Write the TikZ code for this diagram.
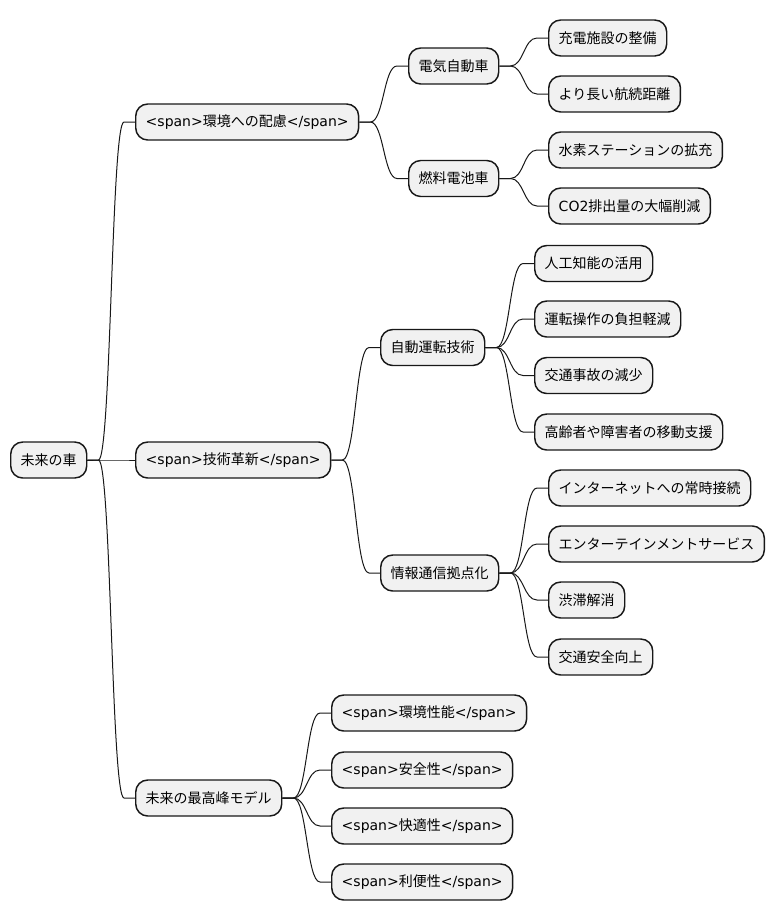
\documentclass[tikz,border=0pt]{standalone}
\usepackage{fontspec}
\setmainfont{DejaVu Sans}
\newfontfamily\jp{Noto Sans CJK JP}
\newcommand\J[1]{{\jp #1}}
\usetikzlibrary{calc}
\definecolor{boxfill}{HTML}{F1F1F1}
\definecolor{linec}{HTML}{181818}
\begin{document}
\begin{tikzpicture}[x=0.75pt,y=-0.75pt,
  box/.style={draw=linec, fill=boxfill, line width=1.1pt, rounded corners=9pt,
    anchor=west, minimum height=27pt, inner xsep=7.5pt, inner ysep=0pt,
    font=\fontsize{10.5pt}{12pt}\selectfont},
  conn/.style={draw=linec, line width=0.75pt, to path={
    let \p1=(\tikztostart.east), \p2=(\tikztotarget.west) in
    (\p1) -- (\x1+8.25pt,\y1) .. controls (\x1/2+\x2/2,\y1) and (\x1/2+\x2/2,\y2) .. (\x2-8.25pt,\y2) -- (\p2)}}]
\useasboundingbox (0,0) rectangle (775,921);
\node[box] (root) at (10,460) {\J{未来の車}};
\node[box] (env) at (135,122) {<span>\J{環境への配慮}</span>};
\node[box] (tech) at (135,460) {<span>\J{技術革新}</span>};
\node[box] (model) at (135,798) {\J{未来の最高峰モデル}};
\node[box] (ev) at (408,66) {\J{電気自動車}};
\node[box] (fc) at (408,178.5) {\J{燃料電池車}};
\node[box] (c1) at (548,38) {\J{充電施設の整備}};
\node[box] (c2) at (548,94) {\J{より長い航続距離}};
\node[box] (c3) at (548,150) {\J{水素ステーションの拡充}};
\node[box] (c4) at (548,206) {CO2\J{排出量の大幅削減}};
\node[box] (ad) at (380,347.5) {\J{自動運転技術}};
\node[box] (ic) at (380,573) {\J{情報通信拠点化}};
\node[box] (a1) at (534,263.5) {\J{人工知能の活用}};
\node[box] (a2) at (534,319) {\J{運転操作の負担軽減}};
\node[box] (a3) at (534,375.5) {\J{交通事故の減少}};
\node[box] (a4) at (534,432) {\J{高齢者や障害者の移動支援}};
\node[box] (i1) at (548,488) {\J{インターネットへの常時接続}};
\node[box] (i2) at (548,544) {\J{エンターテインメントサービス}};
\node[box] (i3) at (548,600) {\J{渋滞解消}};
\node[box] (i4) at (548,657) {\J{交通安全向上}};
\node[box] (m1) at (331,713) {<span>\J{環境性能}</span>};
\node[box] (m2) at (331,770) {<span>\J{安全性}</span>};
\node[box] (m3) at (331,826) {<span>\J{快適性}</span>};
\node[box] (m4) at (331,882) {<span>\J{利便性}</span>};
\foreach \a/\b in {root/env,root/tech,root/model,env/ev,env/fc,ev/c1,ev/c2,fc/c3,fc/c4,
  tech/ad,tech/ic,ad/a1,ad/a2,ad/a3,ad/a4,ic/i1,ic/i2,ic/i3,ic/i4,
  model/m1,model/m2,model/m3,model/m4}
  \path (\a) edge[conn] (\b);
\end{tikzpicture}
\end{document}
